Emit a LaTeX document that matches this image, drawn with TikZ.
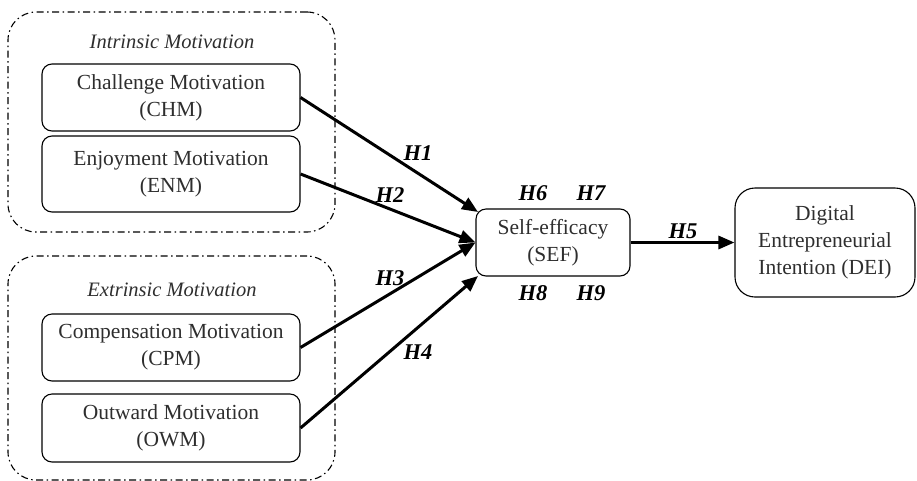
\documentclass[tikz,border=0pt]{standalone}
\usepackage{fontspec}
\setmainfont{Liberation Serif}
\usetikzlibrary{arrows.meta}
\definecolor{txt}{gray}{0.18}
\begin{document}
\begin{tikzpicture}[x=1pt,y=-1pt,
  box/.style={draw=black,line width=1.1pt,rounded corners=10pt,align=center,
    text=txt,font=\fontsize{21.5}{27}\selectfont,inner sep=0pt},
  grp/.style={draw=black,line width=1.1pt,rounded corners=28pt,
    dash pattern=on 7pt off 3.5pt on 1.5pt off 3.5pt,inner sep=0pt},
  glab/.style={text=txt,font=\fontsize{20.5}{24}\selectfont\itshape},
  hyp/.style={text=black,font=\fontsize{22.5}{26}\selectfont\bfseries\itshape},
  arr/.style={line width=3pt,-{Triangle[length=16pt,width=13pt]}}]
\useasboundingbox (0,0) rectangle (917,480);
% groups
\node[grp,minimum width=327pt,minimum height=220pt] (intr) at (171.5,122) {};
\node[grp,minimum width=327pt,minimum height=224pt] (extr) at (171.5,368) {};
\node[glab] (intrl) at (172,42) {Intrinsic Motivation};
\node[glab] (extrl) at (172,290) {Extrinsic Motivation};
% boxes
\node[box,minimum width=258pt,minimum height=67pt] (chm) at (171,97.5) {Challenge Motivation\\(CHM)};
\node[box,minimum width=258pt,minimum height=76pt] (enm) at (171,174) {Enjoyment Motivation\\(ENM)};
\node[box,minimum width=258pt,minimum height=67pt] (cpm) at (171,347.5) {Compensation Motivation\\(CPM)};
\node[box,minimum width=258pt,minimum height=68pt] (owm) at (171,428) {Outward Motivation\\(OWM)};
\node[box,minimum width=154pt,minimum height=67pt] (sef) at (553,242.5) {Self-efficacy\\(SEF)};
\node[box,rounded corners=20pt,minimum width=180pt,minimum height=109pt] (dei) at (825,242.5) {Digital\\Entrepreneurial\\Intention (DEI)};
% arrow targets
\coordinate (t1) at (478,212);
\coordinate (t4) at (478,276);
\draw[arr] (chm.east) -- (t1);
\draw[arr] (enm.east) -- (sef.west);
\draw[arr] (cpm.east) -- (sef.west);
\draw[arr] (owm.east) -- (t4);
\draw[arr] (sef.east) -- (dei.west);
% labels
\node[hyp] (h1) at (418,153) {H1};
\node[hyp] (h2) at (390,195) {H2};
\node[hyp] (h3) at (390,278) {H3};
\node[hyp] (h4) at (418,352) {H4};
\node[hyp] (h5) at (683,231) {H5};
\node[hyp] (h6) at (533,193) {H6};
\node[hyp] (h7) at (591,193) {H7};
\node[hyp] (h8) at (533,293) {H8};
\node[hyp] (h9) at (591,293) {H9};
\end{tikzpicture}
\end{document}
